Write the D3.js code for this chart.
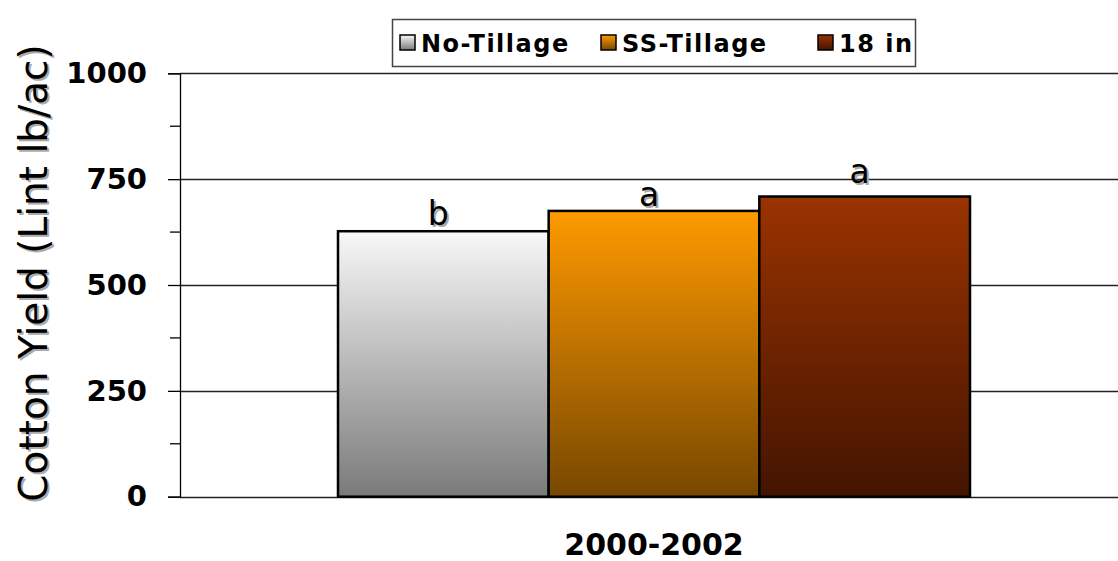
<!DOCTYPE html>
<html>
<head>
<meta charset="utf-8">
<script src="https://cdn.jsdelivr.net/npm/d3@7"></script>
<style>
  body { margin: 0; background: #fff; }
  text { font-family: "Comic Sans MS", "DejaVu Sans", sans-serif; }
</style>
</head>
<body>
<script>
// data
const categories = ["2000-2002"];
const series = ["No-Tillage", "SS-Tillage", "18 in"];
const yields = [627, 675, 709];
const letters = ["b", "a", "a"];
const yTicks = [0, 250, 500, 750, 1000];
const yMinorTicks = [125, 375, 625, 875];

// layout
const w = 1118;
const h = 561;
const plotLeft = 180, plotRight = 1128, plotTop = 73.3, plotBottom = 496.7;
const letterGap = [6, 5, 14]; // gap above each bar for its letter

// gradients (top colour, bottom colour)
const gradColors = [
  ["#f8f8f8", "#7a7a7a"],
  ["#ff9a00", "#774700"],
  ["#9a3300", "#431400"]
];

const svg = d3.select("body").append("svg").attr("width", w).attr("height", h);

const defs = svg.append("defs");
gradColors.forEach(function (c, i) {
  const g = defs.append("linearGradient")
    .attr("id", "grad" + i)
    .attr("x1", 0).attr("y1", 0).attr("x2", 0).attr("y2", 1);
  g.append("stop").attr("offset", "0%").attr("stop-color", c[0]);
  g.append("stop").attr("offset", "100%").attr("stop-color", c[1]);
});

const yScale = d3.scaleLinear().domain([0, 1000]).range([plotBottom, plotTop]);

const x0 = d3.scaleBand()
  .domain(categories)
  .range([plotLeft, plotRight])
  .paddingInner(0)
  .paddingOuter(0.25);

const x1 = d3.scaleBand()
  .domain(series)
  .range([0, x0.bandwidth()]);

// gridlines
svg.append("g")
  .selectAll("line")
  .data(yTicks)
  .enter()
  .append("line")
  .attr("x1", plotLeft)
  .attr("x2", w)
  .attr("y1", d => Math.round(yScale(d)) + 0.5)
  .attr("y2", d => Math.round(yScale(d)) + 0.5)
  .attr("stroke", "#222")
  .attr("stroke-width", 1.3);

// y axis
const yAxis = d3.axisLeft(yScale)
  .tickValues(yTicks)
  .tickSize(12)
  .tickPadding(21)
  .tickFormat(d3.format("d"));

const ya = svg.append("g")
  .attr("transform", "translate(" + plotLeft + ",0)")
  .call(yAxis);
ya.select(".domain").attr("stroke", "#000").attr("stroke-width", 1.3);
ya.selectAll(".tick line").attr("stroke", "#000").attr("stroke-width", 1.3);
ya.selectAll("text")
  .attr("font-family", "DejaVu Sans Condensed, DejaVu Sans, sans-serif")
  .attr("font-size", "29px")
  .attr("font-weight", "bold")
  .attr("fill", "#000");

// minor ticks
svg.append("g")
  .selectAll("line")
  .data(yMinorTicks)
  .enter()
  .append("line")
  .attr("x1", plotLeft - 10)
  .attr("x2", plotLeft)
  .attr("y1", d => yScale(d))
  .attr("y2", d => yScale(d))
  .attr("stroke", "#000")
  .attr("stroke-width", 1.3);

// bars
const group = svg.selectAll(".grp")
  .data(categories)
  .enter()
  .append("g")
  .attr("class", "grp")
  .attr("transform", d => "translate(" + x0(d) + ",0)");

group.selectAll("rect")
  .data(series.map((s, i) => ({ s: s, v: yields[i], i: i })))
  .enter()
  .append("rect")
  .attr("x", d => x1(d.s))
  .attr("y", d => yScale(d.v))
  .attr("width", x1.bandwidth())
  .attr("height", d => yScale(0) - yScale(d.v))
  .attr("fill", d => "url(#grad" + d.i + ")")
  .attr("stroke", "#000")
  .attr("stroke-width", 2.5);

// significance letters (with shadow)
const lettersData = series.map((s, i) => ({ s: s, v: yields[i], t: letters[i], g: letterGap[i] }));
[["#aaa", 2], ["#000", 0]].forEach(function (st) {
  group.selectAll(".lt" + st[1])
    .data(lettersData)
    .enter()
    .append("text")
    .attr("class", "lt" + st[1])
    .attr("x", d => x1(d.s) + x1.bandwidth() / 2 - 5 + st[1])
    .attr("y", d => yScale(d.v) - d.g + st[1])
    .attr("text-anchor", "middle")
    .attr("font-size", "33px")
    .attr("fill", st[0])
    .text(d => d.t);
});

// x category label
svg.selectAll(".xlab")
  .data(categories)
  .enter()
  .append("text")
  .attr("class", "xlab")
  .attr("x", d => x0(d) + x0.bandwidth() / 2)
  .attr("y", 555)
  .attr("text-anchor", "middle")
  .attr("font-family", "DejaVu Sans, sans-serif")
  .attr("font-size", "30px")
  .attr("font-weight", "bold")
  .text(d => d);

// y title with shadow
[["#aaa", 2], ["#000", 0]].forEach(function (st) {
  svg.append("text")
    .attr("transform", "translate(" + (47 + st[1]) + "," + (273 + st[1]) + ") rotate(-90)")
    .attr("text-anchor", "middle")
    .attr("font-size", "39px")
    .attr("fill", st[0])
    .text("Cotton Yield (Lint lb/ac)");
});

// legend
const legend = svg.append("g");
legend.append("rect")
  .attr("x", 392.5)
  .attr("y", 19.5)
  .attr("width", 523)
  .attr("height", 47)
  .attr("fill", "#fff")
  .attr("stroke", "#444")
  .attr("stroke-width", 1.5);

const legX = [400, 601, 818];
const items = legend.selectAll(".item")
  .data(series)
  .enter()
  .append("g")
  .attr("class", "item")
  .attr("transform", (d, i) => "translate(" + legX[i] + ",35)");

items.append("rect")
  .attr("width", 15)
  .attr("height", 15)
  .attr("fill", (d, i) => "url(#grad" + i + ")")
  .attr("stroke", "#000")
  .attr("stroke-width", 1.5);

items.append("text")
  .attr("x", 21)
  .attr("y", 17)
  .attr("font-family", "DejaVu Sans, sans-serif")
  .attr("font-size", "24px")
  .attr("font-weight", "bold")
  .attr("letter-spacing", "1.5px")
  .text(d => d);
</script>
</body>
</html>
